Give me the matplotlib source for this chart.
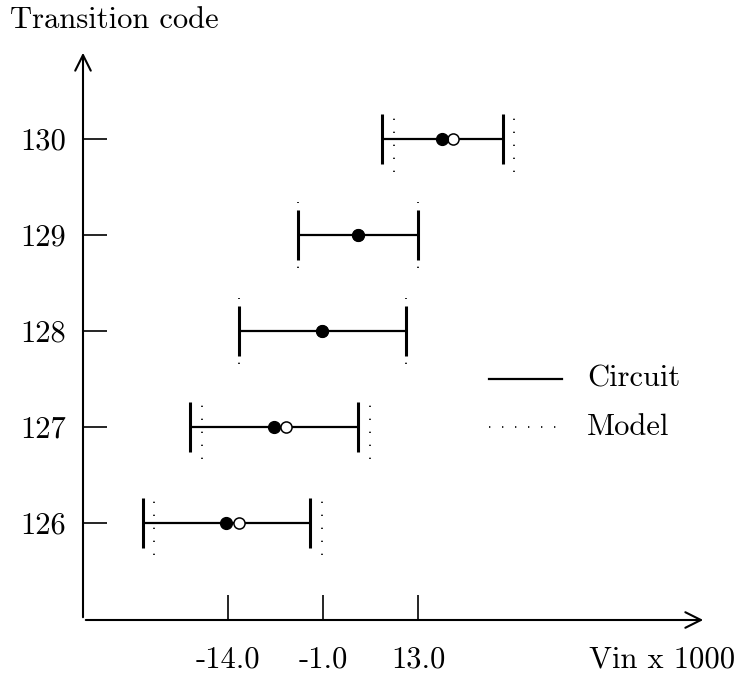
import matplotlib
matplotlib.use("Agg")
import matplotlib.pyplot as plt

plt.rcParams['font.family'] = ['cmr10', 'DejaVu Serif']
plt.rcParams['axes.unicode_minus'] = False
plt.rcParams['mathtext.fontset'] = 'cm'

# transition codes
codes = [126, 127, 128, 129, 130]

# circuit: low / high transition bounds and centre (Vin x 1000)
circ_lo = [-26.1, -19.4, -12.5, -4.0, 7.9]
circ_hi = [-2.4, 4.5, 11.3, 13.0, 25.0]
circ_mid = [-14.3, -7.5, -0.7, 4.4, 16.4]

# model
model_lo = [-24.5, -17.7, -12.5, -4.0, 9.6]
model_hi = [-0.7, 6.2, 11.3, 13.0, 26.6]
model_mid = [-12.5, -5.8, -0.7, 4.4, 18.0]

xtick_pos = [-14.0, -0.5, 13.0]
xtick_labels = ['-14.0', '-1.0', '13.0']

fig = plt.figure(figsize=(7.37, 6.73), dpi=100)
ax = fig.add_axes([83 / 737, 53 / 673, 623 / 737, 570 / 673])

dots = (0, (0.8, 7.0))

for y, lo, hi in zip(codes, model_lo, model_hi):
    ax.vlines([lo, hi], y - 0.34, y + 0.34, colors='k', linestyles=dots, lw=1.2)

for y, lo, hi in zip(codes, circ_lo, circ_hi):
    ax.hlines(y, lo, hi, colors='k', lw=1.6)
    ax.vlines([lo, hi], y - 0.26, y + 0.26, colors='k', lw=2.2)

ax.plot(model_mid, codes, 'o', mfc='white', mec='k', mew=1.1, ms=8, ls='none')
ax.plot(circ_mid, codes, 'o', color='k', ms=8.5, ls='none')

ax.set_xlim(-34.6, 53.9)
ax.set_ylim(124.985, 130.93)

for s in ax.spines.values():
    s.set_visible(False)
ax.annotate('', xy=(1, 0), xytext=(0, 0), xycoords='axes fraction',
            arrowprops=dict(arrowstyle='->', lw=1.5, color='k', mutation_scale=28))
ax.annotate('', xy=(0, 1), xytext=(0, 0), xycoords='axes fraction',
            arrowprops=dict(arrowstyle='->', lw=1.5, color='k', mutation_scale=28))

ax.set_xticks(xtick_pos)
ax.set_xticklabels(xtick_labels)
ax.set_yticks(codes)
ax.set_yticklabels([str(c) for c in codes])
ax.tick_params(axis='x', direction='in', length=18, width=1.2, pad=19, labelsize=22)
ax.tick_params(axis='y', direction='in', length=17, width=1.2, pad=12, labelsize=22)

# legend drawn by hand
ax.plot([23.1, 33.5], [127.5, 127.5], color='k', lw=1.6)
ax.plot([23.1, 32.9], [127.0, 127.0], color='k', ls=dots, lw=1.2)
ax.text(37.0, 127.5, 'Circuit', fontsize=22, va='center', ha='left')
ax.text(37.0, 127.0, 'Model', fontsize=22, va='center', ha='left')

fig.text(10 / 737, 1 - 20 / 673, 'Transition code', fontsize=22, va='center', ha='left')
fig.text(735 / 737, 1 - 660 / 673, 'Vin x 1000', fontsize=22, va='center', ha='right')

fig.savefig('out.png', dpi=100, facecolor='white')
